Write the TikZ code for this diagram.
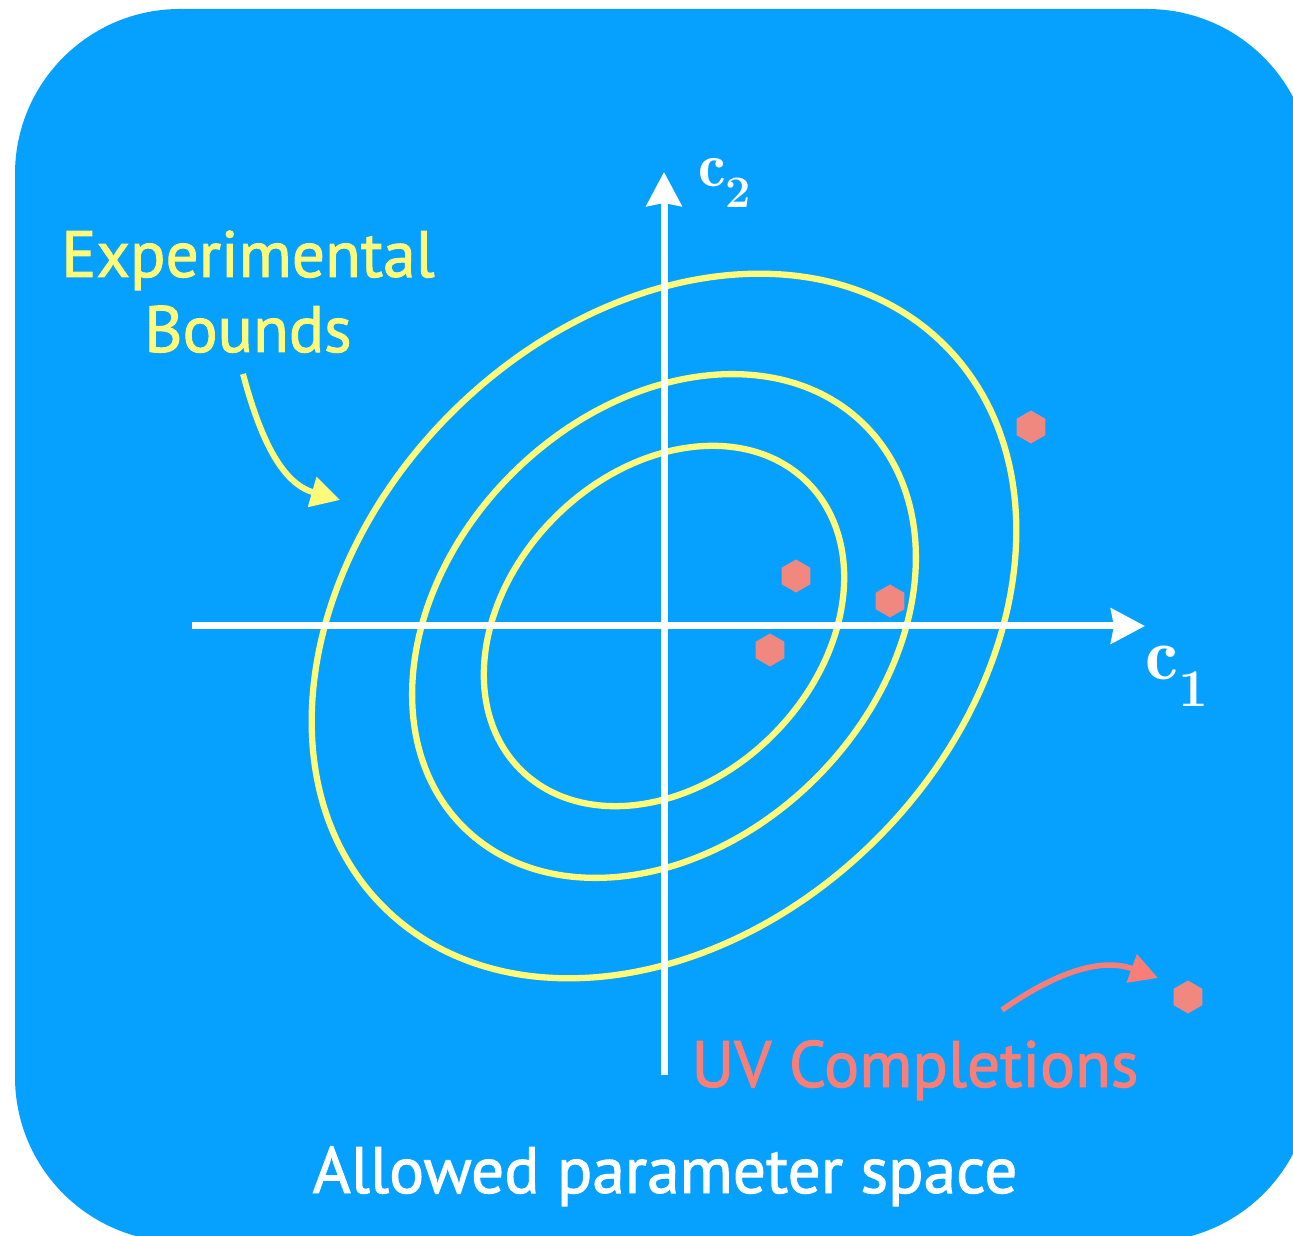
\documentclass[tikz,border=0pt]{standalone}
\usepackage{fontspec}
\newfontfamily\dinfont[FakeBold=1.5]{PT Sans}
\usetikzlibrary{arrows.meta,shapes.geometric}
\definecolor{bgblue}{RGB}{6,160,255}
\definecolor{bndyellow}{RGB}{255,250,122}
\definecolor{hexred}{RGB}{240,136,128}
\definecolor{uvred}{RGB}{250,126,120}
\newcommand{\subdigit}[2]{\mbox{\fontsize{#1}{#1}\selectfont\bfseries #2}}
\begin{document}
\begin{tikzpicture}[x=1pt,y=1pt,
  axisline/.style={draw=white,line width=7pt,-{Stealth[length=34pt,width=35pt,inset=3pt]}},
  bound/.style={draw=bndyellow,line width=6.3pt},
  uvpt/.style={regular polygon,regular polygon sides=6,shape border rotate=30,
    fill=hexred,draw=none,inner sep=0pt,minimum size=33pt},
  sanslabel/.style={font=\dinfont\fontsize{65.5}{75}\selectfont,anchor=base,inner sep=0pt},
  mathlabel/.style={anchor=base west,inner sep=0pt,text=white}]
\useasboundingbox (0,0) rectangle (1293,1235);
\fill[white] (0,0) rectangle (1293,1235);
\fill[bgblue,rounded corners=165pt] (15,-7) rectangle (1312,1226);
% ellipses
\begin{scope}[shift={(664,609)},rotate=45]
  \draw[bound] (0,0) ellipse[x radius=397pt,y radius=301pt];
  \draw[bound] (0,0) ellipse[x radius=284pt,y radius=215pt];
  \draw[bound] (0,0) ellipse[x radius=203pt,y radius=154pt];
\end{scope}
% axes
\coordinate (xstart) at (192,609);
\coordinate (xend) at (1145,609);
\coordinate (ystart) at (664,160);
\coordinate (yend) at (664,1063);
\draw[axisline] (xstart) -- (xend);
\draw[axisline] (ystart) -- (yend);
\node[mathlabel,font=\fontsize{62}{64}\selectfont] (c2) at (698,1048) {$\mathbf{c}_{\subdigit{45}{2}}$};
\node[mathlabel,font=\fontsize{74}{76}\selectfont] (c1) at (1145,555) {$\mathbf{c}_{\subdigit{53}{1}}$};
% UV completions points
\node[uvpt] (h1) at (1031,808) {};
\node[uvpt] (h2) at (796,659) {};
\node[uvpt] (h3) at (890,634) {};
\node[uvpt] (h4) at (770,585) {};
\node[uvpt] (h5) at (1188,238) {};
% texts
\node[sanslabel,text=bndyellow] (exp) at (248,958) {Experimental};
\node[sanslabel,text=bndyellow] (bnd) at (248,883) {Bounds};
\node[sanslabel,text=uvred] (uv) at (915,148) {UV Completions};
\node[sanslabel,text=white] (allowed) at (665,42) {Allowed parameter space};
% pointers
\coordinate (ebstart) at (243,861);
\coordinate (ebtip) at (340,735);
\draw[draw=bndyellow,line width=6pt,-{Triangle[length=29pt,width=30pt]}]
  (ebstart) to[out=-75,in=164] (ebtip);
\coordinate (uvstart) at (1002,225);
\coordinate (uvtip) at (1158,257);
\draw[draw=uvred,line width=5.5pt,-{Triangle[length=28pt,width=29pt]}]
  (uvstart) to[out=35,in=160] (uvtip);
\end{tikzpicture}
\end{document}
